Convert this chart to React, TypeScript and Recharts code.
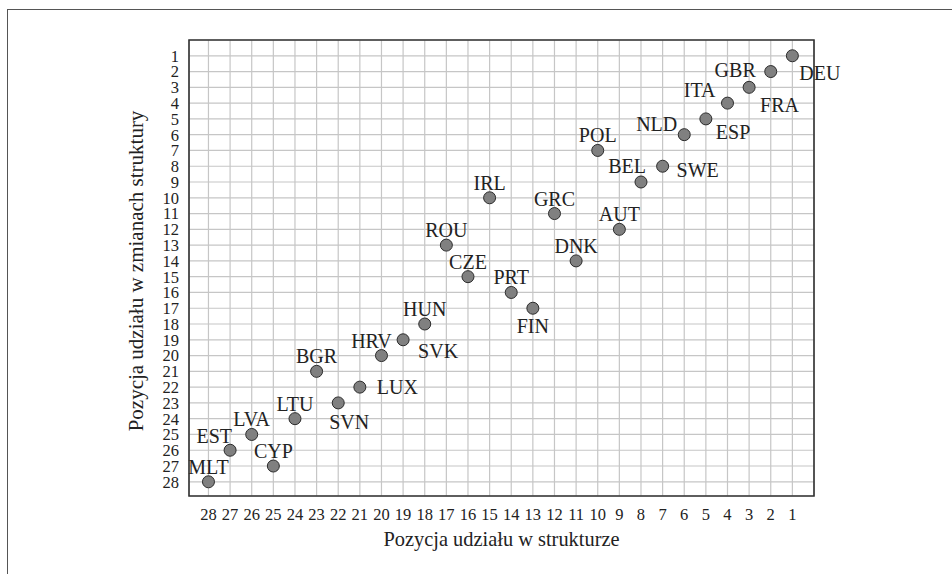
import {
  CartesianGrid,
  ReferenceArea,
  Scatter,
  ScatterChart,
  XAxis,
  YAxis,
} from "recharts";

// Country codes with their rank in the structure (x) and in structural change (y)
const COUNTRIES = [
  "DEU", "GBR", "FRA", "ITA", "ESP", "NLD", "POL", "SWE", "BEL", "IRL",
  "GRC", "AUT", "ROU", "DNK", "CZE", "PRT", "FIN", "HUN", "SVK", "HRV",
  "BGR", "LUX", "SVN", "LTU", "LVA", "EST", "CYP", "MLT",
];
const STRUCTURE_RANK = [
  1, 2, 3, 4, 5, 6, 10, 7, 8, 15, 12, 9, 17, 11, 16, 14, 13, 18, 19, 20, 23,
  21, 22, 24, 26, 27, 25, 28,
];
const CHANGE_RANK = [
  1, 2, 3, 4, 5, 6, 7, 8, 9, 10, 11, 12, 13, 14, 15, 16, 17, 18, 19, 20, 21,
  22, 23, 24, 25, 26, 27, 28,
];
const TICKS = [
  1, 2, 3, 4, 5, 6, 7, 8, 9, 10, 11, 12, 13, 14, 15, 16, 17, 18, 19, 20, 21,
  22, 23, 24, 25, 26, 27, 28,
];
const DOMAIN_MAX = 28.9;

const X_TITLE = "Pozycja udziału w strukturze";
const Y_TITLE = "Pozycja udziału w zmianach struktury";

const data = COUNTRIES.map((name, i) => ({
  name,
  x: STRUCTURE_RANK[i],
  y: CHANGE_RANK[i],
}));

// where each label sits relative to its dot (default: centred above)
type Place = { anchor: "start" | "middle" | "end"; dx: number; dy: number };
const ABOVE: Place = { anchor: "middle", dx: 0, dy: -15 };
const LABEL_PLACE: Record<string, Place> = {
  DEU: { anchor: "start", dx: 7, dy: 17 },
  GBR: { anchor: "end", dx: -15, dy: -2 },
  FRA: { anchor: "start", dx: 11, dy: 18 },
  ITA: { anchor: "end", dx: -12, dy: -13 },
  ESP: { anchor: "start", dx: 10, dy: 13 },
  NLD: { anchor: "end", dx: -7, dy: -11 },
  SWE: { anchor: "start", dx: 14, dy: 4 },
  BEL: { anchor: "end", dx: 5, dy: -16 },
  FIN: { anchor: "middle", dx: 0, dy: 18 },
  SVK: { anchor: "start", dx: 15, dy: 11 },
  HRV: { anchor: "middle", dx: -10, dy: -15 },
  LUX: { anchor: "start", dx: 17, dy: 0 },
  SVN: { anchor: "middle", dx: 11, dy: 19 },
  EST: { anchor: "end", dx: 2, dy: -14 },
};

const FONT = "Liberation Serif, Tinos, DejaVu Serif, serif";
const INK = "#222";

function Dot(props: any) {
  const { cx, cy, payload } = props;
  const p = LABEL_PLACE[payload.name] ?? ABOVE;
  return (
    <g>
      <circle cx={cx} cy={cy} r={6} fill="#808080" stroke="#2b2b2b" strokeWidth={1} />
      <text
        x={cx + p.dx}
        y={cy + p.dy}
        textAnchor={p.anchor}
        dominantBaseline="central"
        style={{ fontFamily: FONT, fontSize: 20 }}
        fill={INK}
      >
        {payload.name}
      </text>
    </g>
  );
}

const tickStyle = { fontFamily: FONT, fontSize: 16.5, fill: INK };

export default function App() {
  return (
    <div
      style={{
        position: "absolute",
        left: 0,
        top: 0,
        width: 952,
        height: 574,
        overflow: "hidden",
        background: "#fff",
        fontFamily: FONT,
      }}
    >
      <div
        style={{
          position: "absolute",
          left: 7,
          top: 9,
          width: 1100,
          height: 800,
          border: "1.5px solid #555",
        }}
      />
      <div style={{ position: "absolute", left: 0, top: 0 }}>
        <ScatterChart
          width={952}
          height={574}
          margin={{ top: 40, right: 138, bottom: 18, left: 129 }}
          style={{ fontFamily: FONT }}
        >
          <CartesianGrid stroke="#c6c6c6" strokeWidth={1.2} />
          <XAxis
            type="number"
            dataKey="x"
            domain={[0, DOMAIN_MAX]}
            reversed
            ticks={TICKS}
            interval={0}
            height={60}
            axisLine={false}
            tickLine={false}
            tickSize={0}
            tickMargin={12}
            tick={tickStyle}
            label={{
              content: ({ viewBox }: any) => (
                <text
                  x={viewBox.x + viewBox.width / 2}
                  y={viewBox.y + viewBox.height - 10}
                  textAnchor="middle"
                  style={{ fontFamily: FONT, fontSize: 20.4 }}
                  fill={INK}
                >
                  {X_TITLE}
                </text>
              ),
            }}
          />
          <YAxis
            type="number"
            dataKey="y"
            domain={[0, DOMAIN_MAX]}
            reversed
            ticks={TICKS}
            interval={0}
            width={60}
            axisLine={false}
            tickLine={false}
            tickSize={0}
            tickMargin={10}
            tick={tickStyle}
            label={{
              content: ({ viewBox }: any) => {
                const x = viewBox.x + 7;
                const y = viewBox.y + viewBox.height / 2 + 3;
                return (
                  <text
                    x={x}
                    y={y}
                    transform={`rotate(-90 ${x} ${y})`}
                    textAnchor="middle"
                    dominantBaseline="central"
                    style={{ fontFamily: FONT, fontSize: 21 }}
                    fill={INK}
                  >
                    {Y_TITLE}
                  </text>
                );
              },
            }}
          />
          <ReferenceArea
            x1={0}
            x2={DOMAIN_MAX}
            y1={0}
            y2={DOMAIN_MAX}
            fill="none"
            stroke="#333"
            strokeWidth={1.6}
            ifOverflow="visible"
          />
          <Scatter data={data} shape={Dot} isAnimationActive={false} />
        </ScatterChart>
      </div>
    </div>
  );
}
